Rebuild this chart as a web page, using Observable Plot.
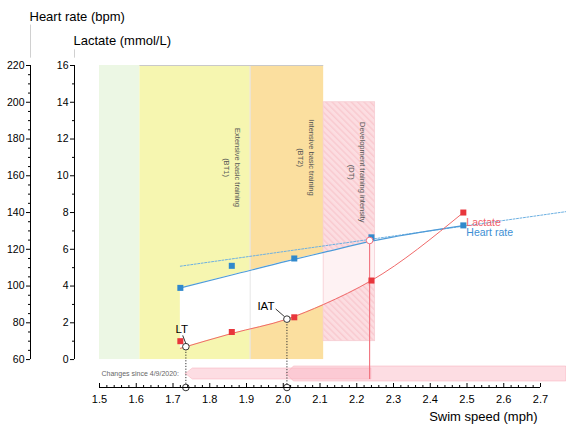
<!DOCTYPE html>
<html><head><meta charset="utf-8">
<script src="https://cdn.jsdelivr.net/npm/d3@7"></script>
<script src="https://cdn.jsdelivr.net/npm/@observablehq/plot@0.6"></script>
<style>
html,body{margin:0;padding:0;background:#fff;}
#chart svg{display:block;}
</style>
</head><body><div id="chart"></div>
<script>
// ---- measured points ----
const speed = [1.72, 1.86, 2.03, 2.24, 2.49];
const heartRate = [99, 111, 115, 126.5, 133];
const lactate = [1.0, 1.5, 2.3, 4.3, 8.0];

// ---- fitted curves ----
const fitSpeed = [1.72, 1.86, 2.01, 2.11, 2.24, 2.49];
const hrFit = [99.0, 106.0, 113.6, 118.3, 124.4, 132.9];
const lactateFit = [0.61, 1.42, 2.2, 3.0, 4.3, 8.0];

// ---- dotted heart-rate trend ----
const trendSpeed = [1.72, 2.77];
const trendHr = [110.8, 140.5];

// ---- thresholds ----
const thresholdName = ["LT", "IAT"];
const thresholdSpeed = [1.735, 2.01];
const thresholdLactate = [0.7, 2.2];

// ---- previous marker ----
const markerSpeed = 2.235;
const markerHr = 124.8;

// ---- changes since 4/9/2020 (arrows) ----
const changeFrom = [1.735, 2.01];
const changeTo = [2.24, 2.77];

// ---- training zones ----
const zoneLabel = ["", "Extensive basic training\n(BT1)", "Intensive basic training\n(BT2)", "Development training intensity\n(DT)"];
const zoneFrom = [1.5, 1.61, 1.91, 2.11];
const zoneTo = [1.61, 1.91, 2.11, 2.25];
const zoneLow = [0, 0, 0, 1.0];
const zoneHigh = [16, 16, 16, 14];

// ---- axes ----
const xTicks = [1.5, 1.6, 1.7, 1.8, 1.9, 2.0, 2.1, 2.2, 2.3, 2.4, 2.5, 2.6, 2.7];
const lactateTicks = [0, 2, 4, 6, 8, 10, 12, 14, 16];
const hrTicks = [60, 80, 100, 120, 140, 160, 180, 200, 220];

// ---- styles ----
const zoneColor = ["#ecf7e4", "#f6f6b0", "#fbdf9f", "#fde6ea"];
const labelDy = [0, 102, 92, 70];
const blue = "#3189cc", blueLine = "#4e9bd8", red = "#e8363c", redLine = "#f06a6a";
const font = "Liberation Sans, Arial, sans-serif";

// ---- derived tables ----
const hrToY = hr => (hr - 60) / 10; // 60..220 bpm shares the 0..16 mmol/L axis
const points = speed.map((s, i) => ({speed: s, hr: heartRate[i], lactate: lactate[i]}));
const fit = fitSpeed.map((s, i) => ({speed: s, hr: hrFit[i], lactate: lactateFit[i]}));
const trend = trendSpeed.map((s, i) => ({speed: s, hr: trendHr[i]}));
const thresholds = thresholdName.map((n, i) => ({name: n, speed: thresholdSpeed[i], lactate: thresholdLactate[i]}));
const zones = zoneLabel.map((label, i) => ({label, from: zoneFrom[i], to: zoneTo[i], low: zoneLow[i], high: zoneHigh[i]}));

const yMin = -1.52;
const bandA = [-1.085, -0.486], bandB = [-1.194, -0.377];
function arrow(from, to, [lo, hi], tip) {
  const mid = (lo + hi) / 2;
  return [{x: from, y1: mid, y2: mid}, {x: from + tip, y1: lo, y2: hi}, {x: to, y1: lo, y2: hi}];
}
const arrows = [arrow(changeFrom[0], changeTo[0], bandA, 0.019), arrow(changeFrom[1], changeTo[1], bandB, 0.019)];

const minorX = d3.range(75, 136).map(d => d / 50).filter(d => Math.abs(d * 10 - Math.round(d * 10)) > 1e-6);
const minorLac = d3.range(0, 17).filter(d => d % 2);
const minorHr = d3.range(60, 221, 5).filter(d => d % 20).map(hrToY);

const dt = zones[3];

const svg = Plot.plot({
  width: 566,
  height: 426,
  marginLeft: 99,
  marginRight: 26,
  marginTop: 65,
  marginBottom: 39,
  style: {fontFamily: font, fontSize: "10.5px", color: "#000", background: "#fff"},
  x: {domain: [1.5, 2.7], label: null},
  y: {domain: [yMin, 16], label: null},
  marks: [
    // zones
    ...zones.slice(0, 3).map((z, i) => Plot.rect([z], {x1: "from", x2: "to", y1: "low", y2: "high", fill: zoneColor[i]})),
    Plot.rect([dt], {x1: "from", x2: "to", y1: "low", y2: "high", fill: "url(#hatch)"}),
    // white band between heart-rate fit and lactate fit
    Plot.areaY(fit, {x: "speed", y1: "lactate", y2: d => hrToY(d.hr), fill: "white", curve: "monotone-x"}),
    Plot.rect([dt], {x1: "from", x2: "to", y1: "low", y2: "high", fill: "#f7b5bf", fillOpacity: 0.18, stroke: "#f6cdd3", strokeWidth: 0.8}),
    Plot.ruleX([zoneFrom[2]], {y1: 0, y2: 16, stroke: "#e6e6e6"}),
    Plot.ruleY([16], {x1: zoneFrom[1], x2: zoneTo[2], stroke: "#c9c9c9"}),
    // zone labels
    ...zones.slice(1).map((z, i) => Plot.text([z], {x: "to", y: "high", text: "label", rotate: 90, dx: -17, dy: labelDy[i + 1], textAnchor: "middle", lineAnchor: "middle", lineHeight: 1.45, fontSize: 7.5, fill: "#555", ariaLabel: "zone-label"})),
    // change arrows
    ...arrows.map(a => Plot.areaY(a, {x: "x", y1: "y1", y2: "y2", fill: "#fbb4c0", fillOpacity: 0.45, stroke: "#f7a3b1", strokeOpacity: 0.55, strokeWidth: 0.8})),
    Plot.text(["Changes since 4/9/2020:"], {x: 1.5, y: (bandA[0] + bandA[1]) / 2, dx: 2, textAnchor: "start", fontSize: 7, fill: "#666"}),
    // vertical marker line
    Plot.ruleX([markerSpeed], {y1: hrToY(markerHr), y2: bandA[0], stroke: "#f0707c", strokeWidth: 1.1}),
    // threshold drop lines
    Plot.ruleX(thresholds, {x: "speed", y1: "lactate", y2: yMin, stroke: "#333", strokeDasharray: "1.2,1.6"}),
    // lines
    Plot.line(trend, {x: "speed", y: d => hrToY(d.hr), stroke: "#6cb0e2", strokeWidth: 1, strokeDasharray: "2,1.5"}),
    Plot.line(fit, {x: "speed", y: d => hrToY(d.hr), stroke: blueLine, strokeWidth: 1.2, curve: "monotone-x"}),
    Plot.line(fit, {x: "speed", y: "lactate", stroke: redLine, strokeWidth: 1, curve: "monotone-x"}),
    // points
    Plot.dot(points, {x: "speed", y: d => hrToY(d.hr), symbol: "square", r: 3.4, fill: blue}),
    Plot.dot(points, {x: "speed", y: "lactate", symbol: "square", r: 3.4, fill: red}),
    // threshold circles
    Plot.dot(thresholds, {x: "speed", y: "lactate", r: 3.3, fill: "white", stroke: "#333", strokeWidth: 1}),
    Plot.dot(thresholds, {x: "speed", frameAnchor: "bottom", r: 3.3, fill: "white", stroke: "#333", strokeWidth: 1}),
    Plot.dot([markerSpeed], {x: d => d, y: hrToY(markerHr), r: 3.3, fill: "white", stroke: "#f07080", strokeWidth: 1}),
    // threshold labels with leaders
    Plot.text(thresholds.slice(0, 1), {x: "speed", y: "lactate", text: "name", dx: -4, dy: -17, fontSize: 11.5}),
    Plot.text(thresholds.slice(1), {x: "speed", y: "lactate", text: "name", dx: -21, dy: -13, fontSize: 11.5}),
    Plot.vector(thresholds.slice(0, 1), {x: "speed", y: "lactate", dy: -3, length: 8.5, rotate: -21, anchor: "start", stroke: "#333", strokeWidth: 0.9, shape: {draw(c, l) { c.moveTo(0, 0); c.lineTo(0, -l); }}}),
    Plot.vector(thresholds.slice(1), {x: "speed", y: "lactate", dx: -3, dy: -3, length: 10.6, rotate: -49, anchor: "start", stroke: "#333", strokeWidth: 0.9, shape: {draw(c, l) { c.moveTo(0, 0); c.lineTo(0, -l); }}}),
    // series labels
    Plot.text(points.slice(-1), {x: "speed", y: "lactate", text: () => "Lactate", dx: 3, dy: 13, textAnchor: "start", lineAnchor: "bottom", fontSize: 10.5, fill: "#f0606a"}),
    Plot.text(points.slice(-1), {x: "speed", y: d => hrToY(d.hr), text: () => "Heart rate", dx: 3, dy: 11, textAnchor: "start", lineAnchor: "bottom", fontSize: 10.5, fill: "#3d8fd4"}),
    // x axis
    Plot.ruleY([yMin], {stroke: "#000"}),
    Plot.axisX({ticks: xTicks, tickSize: 0, tickPadding: 8, tickFormat: d3.format(".1f"), fontSize: 11, label: null}),
    Plot.axisX({ticks: xTicks, tickSize: 4, dy: -4, fill: "none", label: null}),
    Plot.axisX({ticks: minorX, tickSize: 2, dy: -2, fill: "none", label: null}),
    Plot.text(["Swim speed (mph)"], {frameAnchor: "bottom-right", dx: -3, dy: 33, textAnchor: "end", lineAnchor: "bottom", fontSize: 13}),
    // lactate axis
    Plot.ruleX([1.5], {y1: 0, y2: 16, dx: -25, stroke: "#000"}),
    Plot.axisY({ticks: lactateTicks, tickSize: 4, tickPadding: 2, dx: -25, fontSize: 10.5, label: null}),
    Plot.axisY({ticks: minorLac, tickSize: 2, dx: -25, fill: "none", label: null}),
    Plot.ruleX([1.5], {y1: 16.4, y2: 16.85, dx: -25, stroke: "#d0d0d0"}),
    Plot.text(["Lactate (mmol/L)"], {frameAnchor: "top-left", dx: -26, dy: -21, textAnchor: "start", lineAnchor: "bottom", fontSize: 13}),
    // heart-rate axis
    Plot.ruleX([1.5], {y1: 0, y2: 16, dx: -69, stroke: "#000"}),
    Plot.axisY({ticks: hrTicks.map(hrToY), tickFormat: d => Math.round(d * 10 + 60), tickSize: 4, tickPadding: 2, dx: -69, fontSize: 10.5, label: null}),
    Plot.axisY({ticks: minorHr, tickSize: 2, dx: -69, fill: "none", label: null}),
    Plot.ruleX([1.5], {y1: 16.4, y2: 18.2, dx: -69, stroke: "#d0d0d0"}),
    Plot.text(["Heart rate (bpm)"], {frameAnchor: "top-left", dx: -70, dy: -45, textAnchor: "start", lineAnchor: "bottom", fontSize: 13})
  ]
});

// hatch pattern for the development zone
const defs = d3.select(svg).insert("defs", ":first-child");
const pat = defs.append("pattern").attr("id", "hatch").attr("patternUnits", "userSpaceOnUse")
  .attr("width", 4.5).attr("height", 4.5).attr("patternTransform", "rotate(-45)");
pat.append("rect").attr("width", 4.5).attr("height", 4.5).attr("fill", zoneColor[3]);
pat.append("line").attr("x1", 0.75).attr("y1", 0).attr("x2", 0.75).attr("y2", 4.5)
  .attr("stroke", "#f9cbd2").attr("stroke-width", 1.3);

// slanted (italic-like) zone labels: the sans family has no italic face installed
d3.select(svg).selectAll('g[aria-label="zone-label"] text').each(function () {
  const t = this.getAttribute("transform");
  if (t) this.setAttribute("transform", t + " skewX(-13)");
});

document.getElementById("chart").appendChild(svg);
</script>
</body></html>
